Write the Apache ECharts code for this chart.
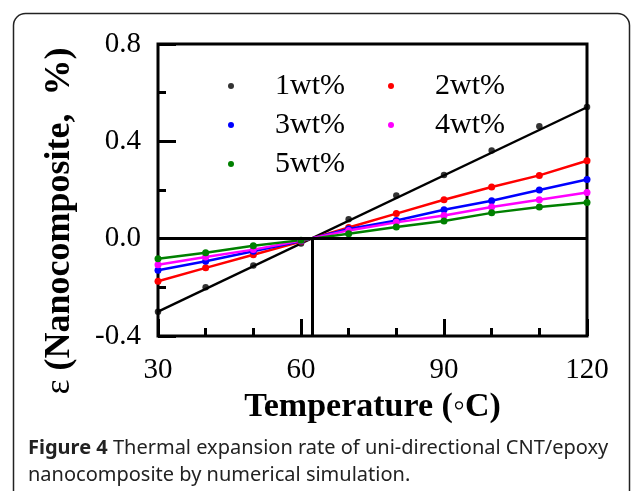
<!DOCTYPE html>
<html>
<head>
<meta charset="utf-8">
<script src="https://cdn.jsdelivr.net/npm/echarts@6/dist/echarts.min.js"></script>
<style>
  html, body { margin: 0; padding: 0; background: #fff; }
  #chart-root { width: 632px; height: 491px; }
</style>
</head>
<body>
<div id="chart-root"></div>
<script>
const temps = [30, 40, 50, 60, 70, 80, 90, 100, 110, 120]
const wt1 = [-0.30, -0.20, -0.11, -0.02, 0.08, 0.177, 0.262, 0.362, 0.462, 0.541]
const wt2 = [-0.175, -0.12, -0.066, -0.012, 0.046, 0.103, 0.16, 0.212, 0.26, 0.32]
const wt3 = [-0.13, -0.093, -0.052, -0.01, 0.04, 0.075, 0.119, 0.156, 0.20, 0.243]
const wt4 = [-0.107, -0.075, -0.045, -0.008, 0.034, 0.067, 0.095, 0.13, 0.16, 0.19]
const wt5 = [-0.083, -0.058, -0.029, -0.006, 0.02, 0.048, 0.073, 0.106, 0.13, 0.149]
// linear fit of the 1wt% points
const fitT = [30, 120]
const fitY = [-0.30, 0.54]
// temperature where the curves cross zero
const crossT = 62.3
const xTicks = [30, 60, 90, 120]
const yTicks = [-0.4, 0.0, 0.4, 0.8]

const serif = "'Liberation Serif', 'Times New Roman', serif"
const pairs = ys => temps.map((t, i) => [t, ys[i]])

let chart = echarts.init(document.getElementById('chart-root'))

function colored (name, color, ys) {
  return {
    name: name,
    type: 'line',
    symbol: 'circle',
    symbolSize: 7,
    itemStyle: { color: color },
    lineStyle: { width: 2.5, color: color },
    data: pairs(ys)
  }
}

let legendText = {
  fontFamily: serif,
  fontSize: 30,
  color: '#000',
  lineHeight: 30,
  padding: [0, 0, 0, 36]
}

let option = {
  animation: false,
  backgroundColor: '#fff',
  grid: {
    left: 158,
    right: 45,
    top: 44,
    bottom: 155,
    show: true,
    borderColor: '#000',
    borderWidth: 3
  },
  legend: [
    {
      data: ['1wt%', '3wt%', '5wt%'],
      orient: 'vertical',
      left: 228,
      top: 71,
      padding: 0,
      itemGap: 9,
      icon: 'circle',
      itemWidth: 6,
      itemHeight: 6,
      textStyle: legendText
    },
    {
      data: ['2wt%', '4wt%'],
      orient: 'vertical',
      left: 388,
      top: 71,
      padding: 0,
      itemGap: 9,
      icon: 'circle',
      itemWidth: 6,
      itemHeight: 6,
      textStyle: legendText
    }
  ],
  xAxis: {
    type: 'value',
    min: xTicks[0],
    max: xTicks[xTicks.length - 1],
    interval: 30,
    name: 'Temperature (\u25e6C)',
    nameLocation: 'middle',
    nameGap: 52,
    nameTextStyle: {
      fontFamily: serif,
      fontSize: 34,
      fontWeight: 'bold',
      color: '#000'
    },
    axisLine: { show: false, onZero: false },
    axisTick: { inside: true, length: 17, lineStyle: { color: '#000', width: 3 } },
    minorTick: { show: true, splitNumber: 3, length: 8, lineStyle: { color: '#000', width: 3 } },
    splitLine: { show: false },
    axisLabel: { fontFamily: serif, fontSize: 29, color: '#000', margin: 20 }
  },
  yAxis: {
    type: 'value',
    min: yTicks[0],
    max: yTicks[yTicks.length - 1],
    interval: 0.4,
    name: '{e|\u03b5} (Nanocomposite,  %)',
    nameLocation: 'middle',
    nameGap: 80,
    nameRotate: 90,
    nameTextStyle: {
      fontFamily: serif,
      fontSize: 36,
      fontWeight: 'bold',
      color: '#000',
      padding: [0, 62, 0, 0],
      rich: {
        e: { fontFamily: serif, fontSize: 36, fontWeight: 'normal', color: '#000' }
      }
    },
    axisLine: { show: false, onZero: false },
    axisTick: { inside: true, length: 18, lineStyle: { color: '#000', width: 3 } },
    minorTick: { show: true, splitNumber: 2, length: 8, lineStyle: { color: '#000', width: 3 } },
    splitLine: { show: false },
    axisLabel: {
      fontFamily: serif,
      fontSize: 29,
      color: '#000',
      margin: 17,
      formatter: v => v.toFixed(1)
    }
  },
  series: [
    {
      name: '1wt%',
      type: 'scatter',
      symbol: 'circle',
      symbolSize: 6.5,
      itemStyle: { color: '#000' },
      data: pairs(wt1)
    },
    {
      name: 'fit',
      type: 'line',
      showSymbol: false,
      lineStyle: { width: 2.4, color: '#000' },
      data: fitT.map((t, i) => [t, fitY[i]]),
      markLine: {
        silent: true,
        symbol: 'none',
        label: { show: false },
        lineStyle: { color: '#000', width: 3, type: 'solid' },
        data: [
          [{ coord: [xTicks[0], 0] }, { coord: [xTicks[xTicks.length - 1], 0] }],
          [{ coord: [crossT, yTicks[0]] }, { coord: [crossT, 0] }]
        ]
      }
    },
    colored('2wt%', '#ff0000', wt2),
    colored('3wt%', '#0000ff', wt3),
    colored('4wt%', '#ff00ff', wt4),
    colored('5wt%', '#008000', wt5)
  ],
  graphic: [
    {
      type: 'rect',
      shape: { x: 13.5, y: 13.5, width: 616, height: 520, r: 12 },
      style: { fill: 'none', stroke: '#222', lineWidth: 1.5 }
    },
    {
      type: 'text',
      left: 28,
      top: 435,
      style: {
        text: '{b|Figure 4} Thermal expansion rate of uni-directional CNT/epoxy\nnanocomposite by numerical simulation.',
        font: "20px 'Noto Sans', sans-serif",
        fill: '#222',
        lineHeight: 27,
        rich: {
          b: { fontWeight: 'bold', fontFamily: "'Noto Sans', sans-serif", fontSize: 20, fill: '#222' }
        }
      }
    }
  ]
}

chart.setOption(option)
</script>
</body>
</html>
